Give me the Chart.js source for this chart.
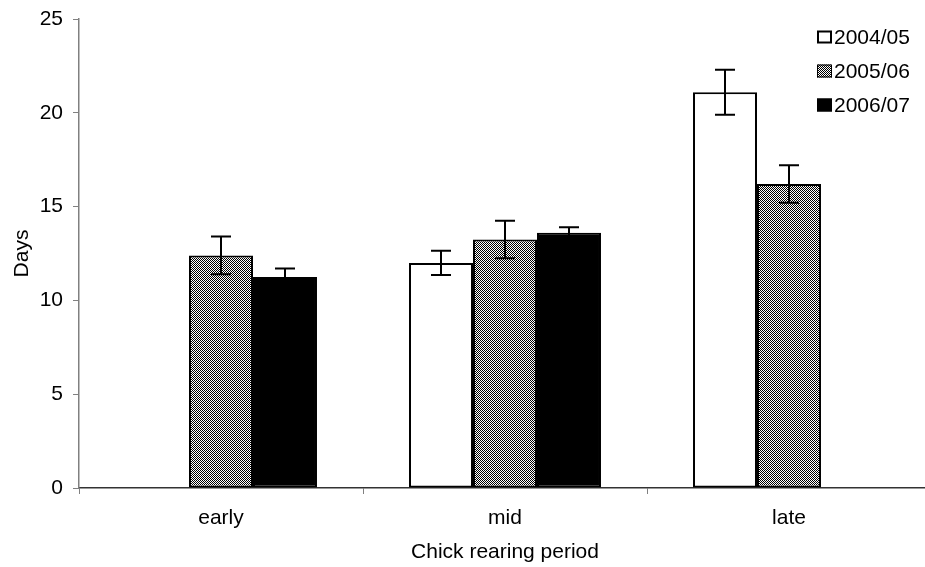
<!DOCTYPE html>
<html>
<head>
<meta charset="utf-8">
<script src="https://cdn.jsdelivr.net/npm/chart.js@4.4.0/dist/chart.umd.min.js"></script>
<style>
html, body { margin: 0; padding: 0; background: #fff; overflow: hidden; }
#wrap { width: 931px; height: 567px; }
</style>
</head>
<body>
<div id="wrap"><canvas id="chart" width="931" height="567"></canvas></div>
<script>
const periods = ["early", "mid", "late"];
const seasons = ["2004/05", "2005/06", "2006/07"];
const days0405 = [null, 12.0, 21.1];
const days0506 = [12.4, 13.25, 16.2];
const days0607 = [11.25, 13.6, null];
const err0405 = [null, 0.65, 1.2];
const err0506 = [1.0, 1.0, 1.0];
const err0607 = [0.45, 0.3, null];
const yTicks = [0, 5, 10, 15, 20, 25];

Chart.defaults.font.family = '"Liberation Sans", Arial, sans-serif';
Chart.defaults.font.size = 21;
Chart.defaults.color = '#000';

/* fine checkerboard fill for 2005/06 */
function checker() {
    const c = document.createElement('canvas');
    c.width = 2; c.height = 2;
    const g = c.getContext('2d');
    g.fillStyle = '#fff';
    g.fillRect(0, 0, 2, 2);
    g.fillStyle = '#000';
    g.fillRect(0, 0, 1, 1);
    g.fillRect(1, 1, 1, 1);
    return document.getElementById('chart').getContext('2d').createPattern(c, 'repeat');
}
const fills = ['#ffffff', checker(), '#000000'];

const errorBars = {
    id: 'errorBars',
    afterDatasetsDraw(chart) {
        const ctx = chart.ctx, y = chart.scales.y;
        ctx.save();
        ctx.strokeStyle = '#000';
        ctx.lineWidth = 2;
        chart.data.datasets.forEach((ds, i) => {
            chart.getDatasetMeta(i).data.forEach((bar, j) => {
                const v = ds.data[j], e = ds.errors[j];
                if (v == null || e == null) return;
                const top = y.getPixelForValue(v + e);
                const bot = y.getPixelForValue(v - e);
                const x = Math.round(bar.x), h = 10;
                ctx.beginPath();
                ctx.moveTo(x, top); ctx.lineTo(x, bot);
                ctx.moveTo(x - h, top); ctx.lineTo(x + h, top);
                ctx.moveTo(x - h, bot); ctx.lineTo(x + h, bot);
                ctx.stroke();
            });
        });
        ctx.restore();
    }
};

/* legend inside the plot, top right */
const boxLegend = {
    id: 'boxLegend',
    afterDraw(chart) {
        const ctx = chart.ctx;
        const x0 = 817, y0 = chart.chartArea.top + 18;
        ctx.save();
        ctx.font = '21px "Liberation Sans", Arial, sans-serif';
        ctx.textBaseline = 'middle';
        chart.data.datasets.forEach((ds, i) => {
            const yc = y0 + i * 34;
            ctx.fillStyle = fills[i];
            ctx.fillRect(x0, yc - 6.5, 15, 13);
            ctx.strokeStyle = '#000';
            ctx.lineWidth = i === 0 ? 2 : 1;
            ctx.strokeRect(x0 + ctx.lineWidth / 2, yc - 6.5 + ctx.lineWidth / 2, 15 - ctx.lineWidth, 13 - ctx.lineWidth);
            ctx.fillStyle = '#000';
            ctx.fillText(ds.label, x0 + 17, yc + 1);
        });
        ctx.restore();
    }
};

const allDays = [days0405, days0506, days0607];
const allErr = [err0405, err0506, err0607];

new Chart(document.getElementById('chart'), {
    type: 'bar',
    data: {
        labels: periods,
        datasets: seasons.map((s, i) => ({
            label: s,
            data: allDays[i],
            errors: allErr[i],
            backgroundColor: fills[i],
            borderColor: '#000',
            borderWidth: 2,
            borderSkipped: false,
            barPercentage: 1,
            categoryPercentage: 0.676
        }))
    },
    options: {
        responsive: false,
        animation: false,
        layout: { padding: { top: 19, right: 0, left: 0, bottom: 0 } },
        plugins: { legend: { display: false }, tooltip: { enabled: false } },
        scales: {
            x: {
                ticks: { padding: 12 },
                grid: { drawOnChartArea: false, tickLength: 6, color: '#808080', offset: true },
                border: { color: '#333', width: 1.5 },
                title: { display: true, text: 'Chick rearing period', padding: { top: 0, bottom: 2 } },
                afterFit(s) { s.height = 79; }
            },
            y: {
                min: 0,
                max: 25,
                afterBuildTicks(s) { s.ticks = yTicks.map(v => ({ value: v })); },
                ticks: { padding: 10 },
                grid: { drawOnChartArea: false, tickLength: 6, color: '#808080' },
                border: { color: '#808080', width: 1.5 },
                title: { display: true, text: 'Days', padding: { top: 10, bottom: 0 } },
                afterFit(s) { s.width = 79; s.paddingTop = 0; s.paddingBottom = 0; }
            }
        }
    },
    plugins: [errorBars, boxLegend]
});
</script>
</body>
</html>
